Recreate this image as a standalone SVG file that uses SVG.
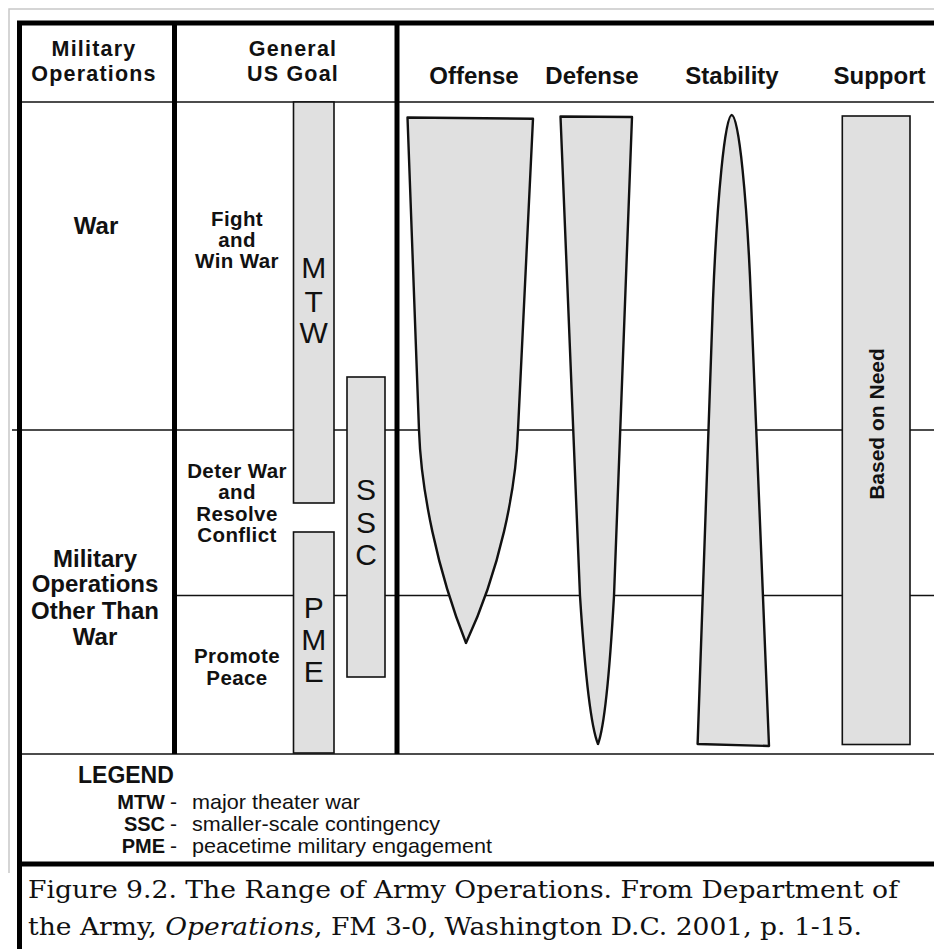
<svg xmlns="http://www.w3.org/2000/svg" width="934" height="949" viewBox="0 0 934 949">
<style>
.hb{font-family:"Liberation Sans",Arial,sans-serif;font-weight:bold;font-size:24px;fill:#111;text-anchor:middle}
.h2{font-family:"Liberation Sans",Arial,sans-serif;font-weight:bold;font-size:21.5px;letter-spacing:1.2px;fill:#111;text-anchor:middle}
.lb{font-family:"Liberation Sans",Arial,sans-serif;font-weight:bold;font-size:20.5px;letter-spacing:0.4px;fill:#111;text-anchor:middle}
.big{font-family:"Liberation Sans",Arial,sans-serif;font-size:30px;fill:#111;text-anchor:middle}
.bar{fill:#e0e0e0;stroke:#111;stroke-width:1.6}
.shape{fill:#e0e0e0;stroke:#111;stroke-width:2.4;stroke-linejoin:round}
.thin{stroke:#111;stroke-width:1.6;fill:none}
.thick{stroke:#000;stroke-width:5;fill:none}
.lgb{font-family:"Liberation Sans",Arial,sans-serif;font-weight:bold;font-size:20px;fill:#111}
.lgr{font-family:"Liberation Sans",Arial,sans-serif;font-size:21px;fill:#111}
.cap{font-family:"DejaVu Serif","Liberation Serif",serif;font-size:25px;fill:#111}
</style>
<rect x="0" y="0" width="934" height="949" fill="#fff"/>
<g id="grid">
  <path d="M9,873 V9 H934" stroke="#c8c8c8" stroke-width="1.5" fill="none"/>
  <line class="thin" x1="17" y1="102" x2="934" y2="102"/>
  <line class="thin" x1="12" y1="430" x2="934" y2="430"/>
  <line class="thin" x1="175" y1="595.5" x2="934" y2="595.5"/>
  <line class="thin" x1="17" y1="754" x2="934" y2="754" stroke-width="2"/>
  <line class="thick" x1="17" y1="23" x2="934" y2="23" stroke-width="3.6"/>
  <line class="thick" x1="19.5" y1="21" x2="19.5" y2="949"/>
  <line class="thick" x1="174.5" y1="23" x2="174.5" y2="754"/>
  <line class="thick" x1="397" y1="23" x2="397" y2="754" stroke-width="5.5"/>
  <line class="thick" x1="17" y1="864" x2="934" y2="864"/>
</g>
<g id="headers">
  <text class="h2" x="94" y="56">Military</text>
  <text class="h2" x="94" y="80.5">Operations</text>
  <text class="h2" x="293" y="56">General</text>
  <text class="h2" x="293" y="80.5">US Goal</text>
  <text class="hb" x="474" y="84">Offense</text>
  <text class="hb" x="592" y="84">Defense</text>
  <text class="hb" x="732" y="84">Stability</text>
  <text class="hb" x="879.5" y="84">Support</text>
</g>
<g id="row-labels">
  <text class="hb" x="96" y="234">War</text>
  <text class="hb" x="95" y="566.7">Military</text>
  <text class="hb" x="95" y="592">Operations</text>
  <text class="hb" x="95" y="619">Other Than</text>
  <text class="hb" x="95" y="645">War</text>
</g>
<g id="goal-labels">
  <text class="lb" x="237" y="226">Fight</text>
  <text class="lb" x="237" y="247">and</text>
  <text class="lb" x="237" y="268">Win War</text>
  <text class="lb" x="237" y="478">Deter War</text>
  <text class="lb" x="237" y="499">and</text>
  <text class="lb" x="237" y="521">Resolve</text>
  <text class="lb" x="237" y="542">Conflict</text>
  <text class="lb" x="237" y="663">Promote</text>
  <text class="lb" x="237" y="685">Peace</text>
</g>
<g id="mtw">
  <rect class="bar" x="293.5" y="102" width="40.5" height="401"/>
  <text class="big" x="313.7" y="278.3">M</text>
  <text class="big" x="313.7" y="311.7">T</text>
  <text class="big" x="313.7" y="343.3">W</text>
</g>
<g id="pme">
  <rect class="bar" x="293.5" y="532" width="40.5" height="221"/>
  <text class="big" x="313.7" y="618">P</text>
  <text class="big" x="313.7" y="650">M</text>
  <text class="big" x="313.7" y="682">E</text>
</g>
<g id="ssc">
  <rect class="bar" x="347" y="377" width="38" height="300"/>
  <text class="big" x="366" y="500">S</text>
  <text class="big" x="366" y="533">S</text>
  <text class="big" x="366" y="565">C</text>
</g>
<g id="offense">
  <path class="shape" d="M407.5,117.5 L533,118.7 L518,430 C516,490 500,570 466,643 C437,570 421,490 419,430 Z"/>
</g>
<g id="defense">
  <path class="shape" d="M560.5,116.5 L632,117 L614,596 Q607,720 598,744 Q588,720 580,596 Z"/>
</g>
<g id="stability">
  <path class="shape" d="M697.6,744 L713,300 C717,200 725,115 731.7,115 C739,115 747,200 751,300 L769,746 Z"/>
</g>
<g id="support">
  <rect class="bar" x="842.3" y="116" width="67.7" height="628.5" stroke-width="1.8"/>
  <text class="hb" transform="translate(884,424) rotate(-90)" style="font-size:21px">Based on Need</text>
</g>
<g id="legend">
  <text class="lgb" x="78" y="783" style="font-size:23px">LEGEND</text>
  <text class="lgb" x="165" y="808.5" text-anchor="end">MTW</text>
  <text class="lgr" x="170" y="808.5">-</text>
  <text class="lgr" x="192" y="808.5" textLength="168" lengthAdjust="spacingAndGlyphs">major theater war</text>
  <text class="lgb" x="165" y="831" text-anchor="end">SSC</text>
  <text class="lgr" x="170" y="831">-</text>
  <text class="lgr" x="192" y="831" textLength="248" lengthAdjust="spacingAndGlyphs">smaller-scale contingency</text>
  <text class="lgb" x="165" y="853" text-anchor="end">PME</text>
  <text class="lgr" x="170" y="853">-</text>
  <text class="lgr" x="192" y="853" textLength="300" lengthAdjust="spacingAndGlyphs">peacetime military engagement</text>
</g>
<g id="caption">
  <text class="cap" x="28" y="898" textLength="870" lengthAdjust="spacingAndGlyphs">Figure 9.2. The Range of Army Operations. From Department of</text>
  <text class="cap" x="28" y="935" textLength="834" lengthAdjust="spacingAndGlyphs">the Army, <tspan font-style="italic">Operations</tspan>, FM 3-0, Washington D.C. 2001, p. 1-15.</text>
</g>
</svg>
